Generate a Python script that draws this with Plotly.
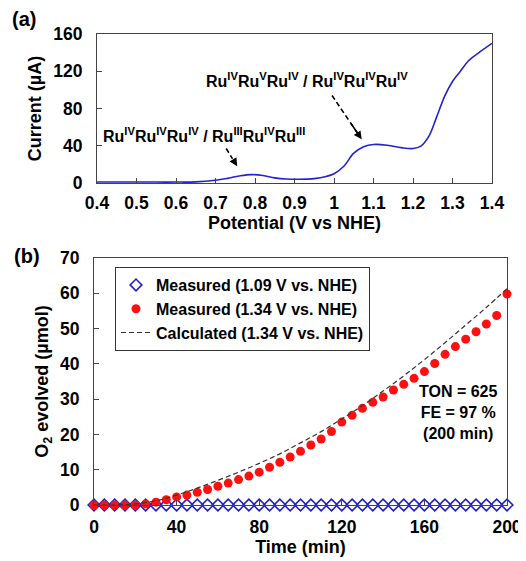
import plotly.graph_objects as go

# ---- Panel (a) data: current vs potential
potential = [0.40, 0.45, 0.50, 0.55, 0.60, 0.65, 0.70, 0.73, 0.76, 0.79, 0.82, 0.85,
             0.88, 0.91, 0.95, 0.98, 1.00, 1.025, 1.05, 1.075, 1.10, 1.135, 1.17, 1.20,
             1.22, 1.24, 1.26, 1.28, 1.30, 1.32, 1.34, 1.37, 1.40]
current = [1, 1, 1, 1, 1, 1.2, 3, 5, 7.5, 9, 8, 5.5,
           4.3, 4, 4.7, 7, 10, 18, 32, 39, 41.4, 40.6, 38, 37,
           39.6, 50, 71, 93, 109, 120, 131, 141, 150]

# ---- Panel (b) data: O2 evolved vs time
time_meas = list(range(0, 205, 5))
o2_109 = [0] * len(time_meas)
o2_134 = [0, 0, 0, 0, 0, 0.3, 0.8, 1.5, 2.3, 2.8, 3.6, 4.4, 5.3, 6.2, 7.2, 8.2, 9.3,
          10.7, 12.1, 13.6, 15.2, 17.0, 18.7, 20.8, 23.5, 25.4, 27.4, 29.1, 30.6,
          32.6, 34.2, 35.9, 37.8, 40.1, 42.7, 44.9, 47.0, 49.1, 51.3, 53.7, 59.8]
time_calc = [0, 10, 20, 30, 40, 50, 60, 70, 80, 90, 100, 110, 120, 130, 140, 150,
             160, 170, 180, 190, 200]
o2_calc = [0, 0, 0.3, 1.2, 2.8, 4.8, 7.0, 9.3, 11.8, 14.5, 17.6, 20.8, 24.4, 28.2,
           32.3, 36.6, 41.2, 46.0, 51.0, 56.0, 61.3]

OFF = 8                     # page body margin
W, H = 526 - OFF, 561 - OFF  # figure size
FONT = "Arial, Liberation Sans, sans-serif"


def px(x):
    return (x - OFF) / W


def py(y):
    return 1 - (y - OFF) / H


fig = go.Figure()
fig.add_trace(go.Scatter(x=potential, y=current, mode="lines", line=dict(color="#2323d0", width=1.6, shape="spline"),
                         showlegend=False, xaxis="x", yaxis="y"))

fig.add_trace(go.Scatter(x=time_meas, y=o2_109, mode="markers", name="Measured (1.09 V vs. NHE)", cliponaxis=False,
                         marker=dict(symbol="diamond-open", size=9, color="#1f1fc8", line=dict(width=1.6, color="#1f1fc8")),
                         xaxis="x2", yaxis="y2"))
fig.add_trace(go.Scatter(x=time_meas, y=o2_134, mode="markers", name="Measured (1.34 V vs. NHE)", cliponaxis=False,
                         marker=dict(symbol="circle", size=9, color="#ff1010"),
                         xaxis="x2", yaxis="y2"))
fig.add_trace(go.Scatter(x=time_calc, y=o2_calc, mode="lines", name="Calculated (1.34 V vs. NHE)",
                         line=dict(color="#333333", width=1.2, dash="5px,3px", shape="spline"),
                         xaxis="x2", yaxis="y2"))

axis_common = dict(showline=True, linecolor="#444", linewidth=1, mirror=True, ticks="inside",
                   ticklen=5, tickcolor="#444", showgrid=False, zeroline=False, automargin=False,
                   tickfont=dict(size=17.5, family=FONT, color="black", weight="bold"),
                   title_font=dict(size=18, family=FONT, color="black", weight="bold"))

fig.update_layout(
    template="none",
    width=W, height=H, margin=dict(l=0, r=0, t=0, b=0, pad=0),
    paper_bgcolor="white", plot_bgcolor="white",
    font=dict(family=FONT, color="black", weight="bold"),
    xaxis=dict(domain=[px(97), px(492)], range=[0.4, 1.4], dtick=0.1, tickformat="~g",
               title=dict(text="Potential (V vs NHE)", standoff=2), anchor="y", ticklabelstandoff=4, **axis_common),
    yaxis=dict(domain=[py(183), py(34)], range=[0, 160], dtick=40,
               title=dict(text="Current (µA)", standoff=6), anchor="x", ticklabelstandoff=10, **axis_common),
    xaxis2=dict(domain=[px(94), px(507)], range=[0, 200], dtick=40,
                title=dict(text="Time (min)", standoff=0), anchor="y2", ticklabelstandoff=6, **axis_common),
    yaxis2=dict(domain=[py(505), py(258)], range=[0, 70], dtick=10,
                title=dict(text="O<sub>2</sub> evolved (µmol)", standoff=6), anchor="x2", ticklabelstandoff=10, **axis_common),
    legend=dict(x=px(115), y=py(267), xanchor="left", yanchor="top",
                bordercolor="#333", borderwidth=1, bgcolor="white",
                font=dict(size=16, family=FONT, color="black", weight="bold"),
                tracegroupgap=0, itemwidth=30),
)

# panel labels
fig.add_annotation(text="(a)", x=px(10), y=py(19), xref="paper", yref="paper", xanchor="left", yanchor="middle",
                   showarrow=False, font=dict(size=20, family=FONT, color="black", weight="bold"))
fig.add_annotation(text="(b)", x=px(12), y=py(256), xref="paper", yref="paper", xanchor="left", yanchor="middle",
                   showarrow=False, font=dict(size=20, family=FONT, color="black", weight="bold"))

# redox labels (a)
lab_font = dict(size=16, family=FONT, color="black", weight="bold")
fig.add_annotation(text="Ru<sup>IV</sup>Ru<sup>V</sup>Ru<sup>IV</sup> / Ru<sup>IV</sup>Ru<sup>IV</sup>Ru<sup>IV</sup>",
                   x=px(204), y=py(80), xref="paper", yref="paper", xanchor="left", yanchor="middle",
                   showarrow=False, font=lab_font)
fig.add_annotation(text="Ru<sup>IV</sup>Ru<sup>IV</sup>Ru<sup>IV</sup> / Ru<sup>III</sup>Ru<sup>IV</sup>Ru<sup>III</sup>",
                   x=px(101), y=py(135), xref="paper", yref="paper", xanchor="left", yanchor="middle",
                   showarrow=False, font=lab_font)

# dashed arrows
for (x0, y0, x1, y1) in [(0.995, 94, 1.062, 52), (0.727, 37, 0.752, 20)]:
    fig.add_shape(type="line", x0=x0, y0=y0, x1=x1, y1=y1, xref="x", yref="y",
                  line=dict(color="black", width=1.6, dash="5px,3px"))
    dx, dy = x1 - x0, y1 - y0
    fig.add_annotation(x=x1 + dx * 0.12, y=y1 + dy * 0.12, ax=x1 - dx * 0.35, ay=y1 - dy * 0.35,
                       xref="x", yref="y", axref="x", ayref="y", text="", showarrow=True,
                       arrowhead=2, arrowsize=1.0, arrowwidth=1.6, arrowcolor="rgba(0,0,0,1)")
    # hide the solid part of the annotation's arrow stem behind a dashed overlay
    fig.add_shape(type="line", x0=x1 - dx * 0.35, y0=y1 - dy * 0.35, x1=x1, y1=y1, xref="x", yref="y",
                  line=dict(color="white", width=3, dash="3px,5px"), layer="above")

# TON box (b)
fig.add_annotation(text="TON = 625<br>FE = 97 %<br>(200 min)", x=px(458), y=py(412),
                   xref="paper", yref="paper", xanchor="center", yanchor="middle", showarrow=False,
                   align="center", font=dict(size=16, family=FONT, color="black", weight="bold"))

fig.write_html("out.html")
